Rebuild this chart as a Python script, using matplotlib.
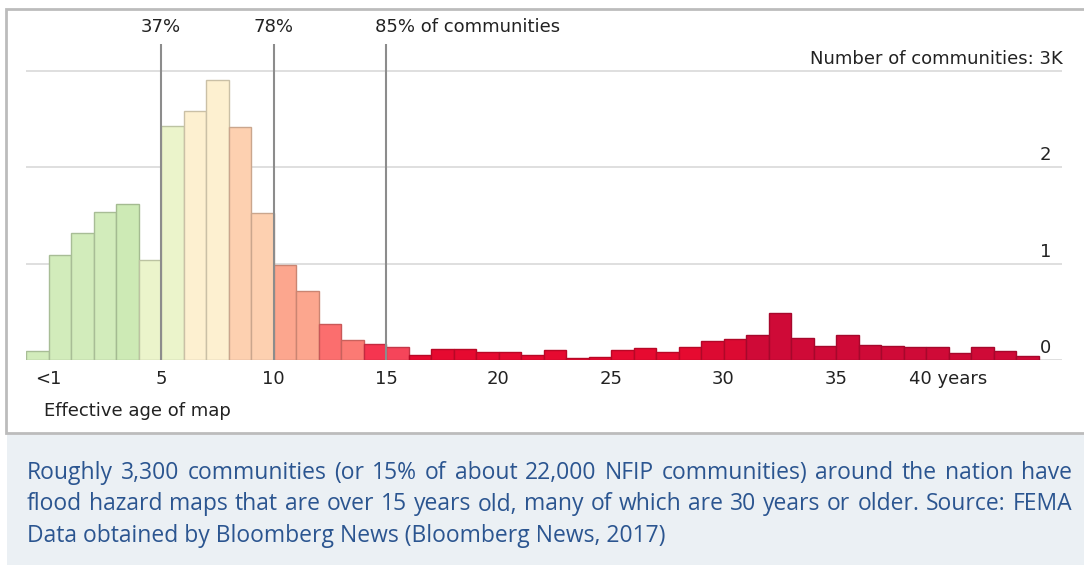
import matplotlib
matplotlib.use("Agg")
import matplotlib.pyplot as plt
from matplotlib.patches import Rectangle
from matplotlib.colors import to_rgb

# communities per map age bin (bin 0 = "<1 year", then one bin per year)
counts = [90, 1090, 1320, 1540, 1620, 1040, 2430, 2590, 2910, 2420,
          1530, 990, 715, 370, 205, 165, 140, 57, 110, 115,
          78, 85, 55, 100, 25, 35, 105, 125, 85, 130,
          200, 215, 260, 485, 225, 145, 255, 155, 150, 130,
          140, 70, 140, 95, 40]
tick_pos = [1, 6, 11, 16, 21, 26, 31, 36, 41]
tick_labels = ["<1", "5", "10", "15", "20", "25", "30", "35", "40 years"]
marker_pos = [6, 11, 16]
marker_labels = ["37%", "78%", "85% of communities"]
grid_vals = [0, 1000, 2000, 3000]
grid_labels = ["0", "1", "2", "3K"]
caption_lines = [
    "Roughly 3,300 communities (or 15% of about 22,000 NFIP communities) around the nation have",
    "flood hazard maps that are over 15 years old, many of which are 30 years or older. Source: FEMA",
    "Data obtained by Bloomberg News (Bloomberg News, 2017)",
]

# colour ramp: green -> cream -> peach -> red -> crimson
colors = (["#d2ecbb"] * 4 + ["#cdeab5"] + ["#ebf4cb"] * 2 + ["#fdf0d0"] * 2 +
          ["#fdd0b0"] * 2 + ["#fca68e"] * 2 + ["#fb6e6e", "#fb7a74"] +
          ["#f53550", "#f5455a"] + ["#e60a30"] * 13 + ["#dc0a32"] * 2 +
          ["#cf0a37"] * 13)

W, H = 1084, 565
fig = plt.figure(figsize=(W / 100, H / 100), dpi=100)
fig.patch.set_facecolor("white")

def fx(x):
    return x / W

def fy(y):
    return 1 - y / H

chart_font = ["DejaVu Sans"]
chart_size = 13
txt_col = "#222222"

# chart frame and caption panel
fig.add_artist(Rectangle((fx(7), fy(565)), 1, (565 - 433) / H, transform=fig.transFigure,
                         facecolor="#ebf0f4", edgecolor="none", zorder=0))
fig.add_artist(Rectangle((fx(6), fy(433)), fx(1100 - 6), (433 - 9) / H, transform=fig.transFigure,
                         facecolor="white", edgecolor="#bcbcbc", linewidth=2, zorder=0))

# axes: x in bin units (22.5 px per bin), y so that 1000 = 96.33 px
x0, x1 = 26, 1062
y_base, y_top = 360, 44
px_per_k = 96.33
ax = fig.add_axes([fx(x0), fy(y_base), fx(x1 - x0), (y_base - y_top) / H])
ax.set_xlim(0, (x1 - x0) / 22.5)
ax.set_ylim(0, (y_base - y_top) / px_per_k * 1000)
ax.patch.set_alpha(0)
for s in ax.spines.values():
    s.set_visible(False)
ax.set_yticks([])

for v in grid_vals:
    ax.axhline(v, color="#dcdcdc", linewidth=1.3, zorder=0)

edges = [tuple(c * 0.8 for c in to_rgb(col)) for col in colors]
ax.bar([i + 0.5 for i in range(len(counts))], counts, width=1.0,
       color=colors, edgecolor=edges, linewidth=1.0, zorder=2)

for p in marker_pos:
    ax.axvline(p, ymin=0, ymax=1, color="#8c8c8c", linewidth=1.5, zorder=3)

ax.set_xticks(tick_pos)
ax.set_xticklabels(tick_labels, fontsize=chart_size, family=chart_font, color=txt_col)
ax.tick_params(axis="x", length=0, pad=7)

for p, lab in zip(marker_pos, marker_labels):
    if lab.startswith("85"):
        fig.text(fx(375), fy(27), lab, ha="left", va="center",
                 fontsize=chart_size, family=chart_font, color=txt_col)
    else:
        fig.text(fx(x0 + p * 22.5), fy(27), lab, ha="center", va="center",
                 fontsize=chart_size, family=chart_font, color=txt_col)

# value labels sitting just above each gridline, at the right end
for v, lab in zip(grid_vals, grid_labels):
    yb = y_base - v / 1000 * px_per_k - 7
    if lab == "3K":
        fig.text(fx(1063), fy(yb), "Number of communities: 3K", ha="right", va="baseline",
                 fontsize=chart_size, family=chart_font, color=txt_col)
    else:
        fig.text(fx(1040), fy(yb), lab, ha="left", va="baseline",
                 fontsize=chart_size, family=chart_font, color=txt_col)

fig.text(fx(44), fy(411), "Effective age of map", ha="left", va="center",
         fontsize=chart_size, family=chart_font, color=txt_col)

# caption, first two lines justified between the margins
cap_font = ["Open Sans", "DejaVu Sans"]
cap_col = "#2b5590"
cap_size = 16.5
left, right = 27, 1072
baselines = [479, 510.5, 541.5]
renderer = fig.canvas.get_renderer()
for li, (line, yb) in enumerate(zip(caption_lines, baselines)):
    if li == len(caption_lines) - 1:
        fig.text(fx(left), fy(yb), line, ha="left", va="baseline",
                 fontsize=cap_size, family=cap_font, color=cap_col)
        continue
    words = line.split(" ")
    arts = [fig.text(0, fy(yb), w, ha="left", va="baseline",
                     fontsize=cap_size, family=cap_font, color=cap_col) for w in words]
    widths = [a.get_window_extent(renderer).width for a in arts]
    gap = (right - left - sum(widths)) / (len(words) - 1)
    x = left
    for a, w in zip(arts, widths):
        a.set_x(fx(x))
        x += w + gap

fig.savefig("out.png", dpi=100)
